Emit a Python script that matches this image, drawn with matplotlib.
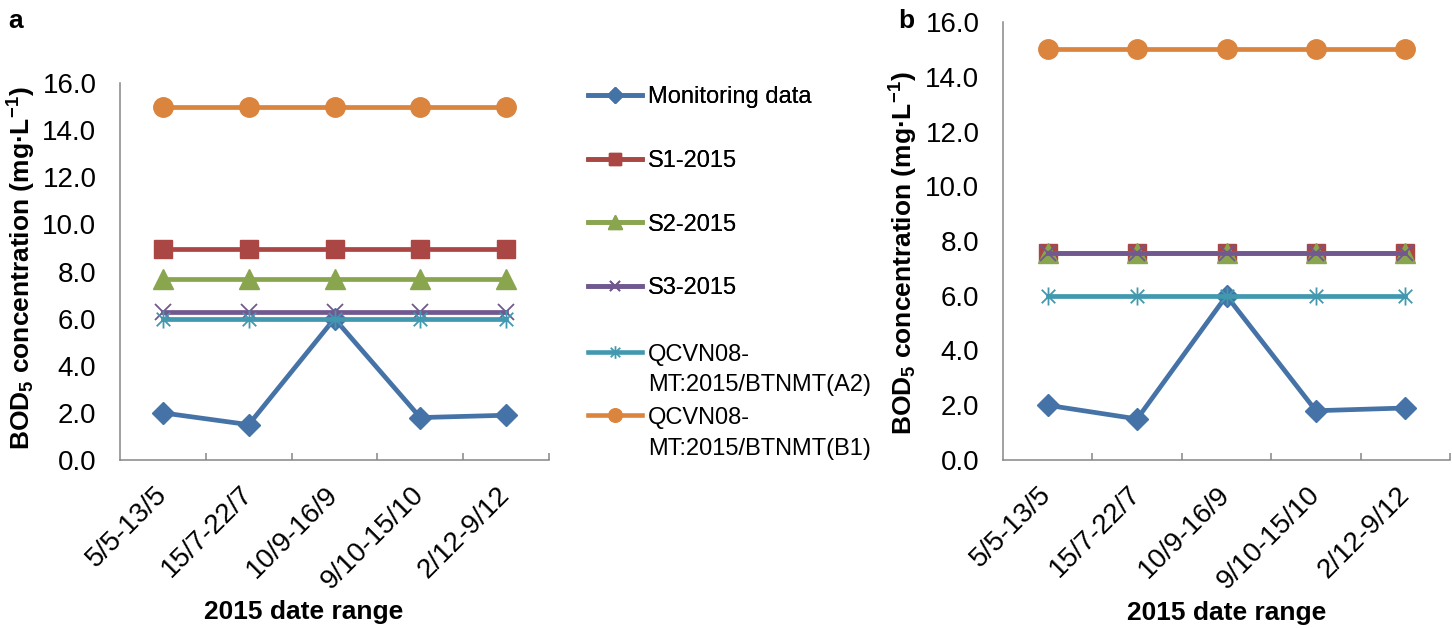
import matplotlib
matplotlib.use("Agg")
import matplotlib.pyplot as plt
from matplotlib.path import Path
from matplotlib.lines import Line2D

plt.rcParams['font.family'] = ['Liberation Sans', 'DejaVu Sans']
plt.rcParams['mathtext.fontset'] = 'custom'
plt.rcParams['mathtext.rm'] = 'Liberation Sans:bold'
plt.rcParams['mathtext.bf'] = 'Liberation Sans:bold'
plt.rcParams['mathtext.default'] = 'bf'

dates = ["5/5-13/5", "15/7-22/7", "10/9-16/9", "9/10-15/10", "2/12-9/12"]
series_names = ["Monitoring data", "S1-2015", "S2-2015", "S3-2015",
                "QCVN08-\nMT:2015/BTNMT(A2)", "QCVN08-\nMT:2015/BTNMT(B1)"]

# panel a
monitoring_a = [2.0, 1.5, 6.0, 1.8, 1.9]
s1_a = [8.95, 8.95, 8.95, 8.95, 8.95]
s2_a = [7.7, 7.7, 7.7, 7.7, 7.7]
s3_a = [6.3, 6.3, 6.3, 6.3, 6.3]
a2_a = [6.0, 6.0, 6.0, 6.0, 6.0]
b1_a = [15.0, 15.0, 15.0, 15.0, 15.0]

# panel b
monitoring_b = [2.0, 1.5, 6.0, 1.8, 1.9]
s1_b = [7.55, 7.55, 7.55, 7.55, 7.55]
s2_b = [7.55, 7.55, 7.55, 7.55, 7.55]
s3_b = [7.55, 7.55, 7.55, 7.55, 7.55]
a2_b = [6.0, 6.0, 6.0, 6.0, 6.0]
b1_b = [15.0, 15.0, 15.0, 15.0, 15.0]

colors = ["#4572A7", "#AA4643", "#89A54E", "#71588F", "#4198AF", "#DB843D"]

# excel style asterisk: x plus vertical bar
star = Path([(0, -1), (0, 1), (-0.75, -0.75), (0.75, 0.75), (-0.75, 0.75), (0.75, -0.75)],
            [Path.MOVETO, Path.LINETO, Path.MOVETO, Path.LINETO, Path.MOVETO, Path.LINETO])

styles = [
    dict(marker="D", ms=11, mew=1),
    dict(marker="s", ms=13, mew=1),
    dict(marker="^", ms=14, mew=1),
    dict(marker="x", ms=11, mew=1.3),
    dict(marker=star, ms=13, mew=1.3),
    dict(marker="o", ms=14, mew=1),
]

fig = plt.figure(figsize=(14.52, 6.28), dpi=100)
ax_a = fig.add_axes([120 / 1452, 168 / 628, 429 / 1452, 377 / 628])
ax_b = fig.add_axes([1003 / 1452, 168 / 628, 447 / 1452, 438 / 628])

x = list(range(len(dates)))
grey = "#868686"


def draw(ax, data, ylabel_x, ylabel_y):
    for i, (vals, c, st) in enumerate(zip(data, colors, styles)):
        ax.plot(x, vals, color=c, lw=3.4, marker=st["marker"], ms=st["ms"],
                mec=c, mfc=c, mew=st["mew"], zorder=2 + i, clip_on=False)
    ax.set_xlim(-0.5, 4.5)
    ax.set_ylim(0, 16)
    ax.set_yticks(range(0, 17, 2))
    ax.set_yticklabels([f"{v:.1f}" for v in range(0, 17, 2)])
    ax.set_xticks(x)
    ax.set_xticklabels(dates, rotation=45, ha="right", va="center",
                       rotation_mode="anchor")
    ax.set_xticks([i + 0.5 for i in x], minor=True)
    ax.tick_params(axis="x", which="major", length=0, pad=22, labelsize=20)
    ax.tick_params(axis="x", which="minor", length=5, width=1.1, color=grey,
                   direction="in")
    ax.tick_params(axis="y", length=0, pad=17, labelsize=20)
    for s in ["top", "right"]:
        ax.spines[s].set_visible(False)
    for s in ["left", "bottom"]:
        ax.spines[s].set_color(grey)
        ax.spines[s].set_linewidth(1.1)
    ax.set_ylabel("BOD$_5$ concentration (mg·L$^{-1}$)", fontsize=19,
                  fontweight="bold")
    ax.yaxis.set_label_coords(ylabel_x, ylabel_y)
    ax.set_xlabel("2015 date range", fontsize=19, fontweight="bold")


draw(ax_a, [monitoring_a, s1_a, s2_a, s3_a, a2_a, b1_a], -0.19, 0.51)
draw(ax_b, [monitoring_b, s1_b, s2_b, s3_b, a2_b, b1_b], -0.186, 0.473)
ax_a.xaxis.set_label_coords(0.427, -0.372)
ax_b.xaxis.set_label_coords(0.5, -0.321)

fig.text(8 / 1452, 1 - 28 / 628, "a", fontsize=19, fontweight="bold")
fig.text(898 / 1452, 1 - 28 / 628, "b", fontsize=19, fontweight="bold")

handles = [Line2D([], [], color=c, lw=3.3, marker=st["marker"], ms=st["ms"] * 0.7,
                  mec=c, mfc=c, mew=st["mew"]) for c, st in zip(colors, styles)]
leg1 = fig.legend(handles[:4], series_names[:4], loc="upper left",
                  bbox_to_anchor=(588 / 1452, 1 - 86 / 628), frameon=False,
                  fontsize=17, handlelength=2.3, handletextpad=0.25,
                  labelspacing=1.77, borderpad=0, borderaxespad=0)
leg2 = fig.legend(handles[4:], series_names[4:], loc="upper left",
                  bbox_to_anchor=(588 / 1452, 1 - 344 / 628), frameon=False,
                  fontsize=17, handlelength=2.3, handletextpad=0.25,
                  labelspacing=0.45, borderpad=0, borderaxespad=0)
for t in leg2.get_texts():
    t.set_linespacing(1.5)
# put the handle next to the first line of a two-line label
for col in leg2._legend_handle_box.get_children():
    for item in col.get_children():
        item.align = "top"
fig.add_artist(leg1)

fig.savefig("out.png", dpi=100)
